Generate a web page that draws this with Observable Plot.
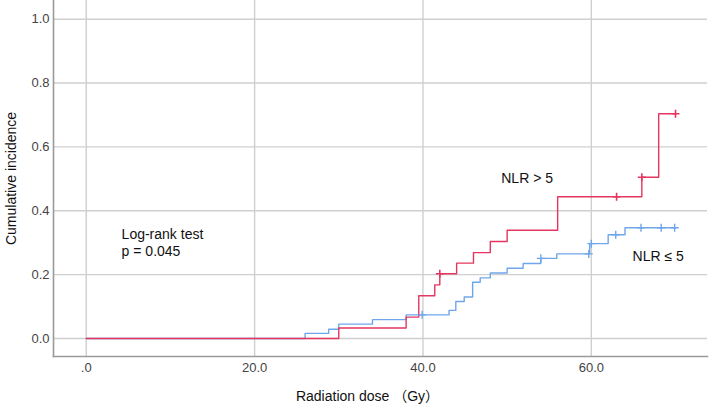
<!DOCTYPE html>
<html>
<head>
<meta charset="utf-8">
<script src="https://cdn.jsdelivr.net/npm/d3@7"></script>
<script src="https://cdn.jsdelivr.net/npm/@observablehq/plot@0.6"></script>
<style>
  html, body { margin: 0; padding: 0; background: #fff; }
</style>
</head>
<body>
<div id="chart"></div>
<script>
// Group NLR > 5
const doseHigh = [0, 30, 38, 39.5, 41.4, 42, 44, 46, 48, 50, 56, 66, 68, 70];
const incHigh  = [0, 0.033, 0.067, 0.134, 0.168, 0.203, 0.236, 0.269, 0.304, 0.339, 0.444, 0.505, 0.704, 0.704];
const censorHighDose = [42, 63, 66, 70];
const censorHighInc  = [0.203, 0.444, 0.505, 0.704];

// Group NLR ≤ 5
const doseLow = [0, 26, 28.8, 30, 34, 38, 43.1, 43.9, 44.9, 45.9, 46.8, 48, 50, 51.9, 54, 55.9, 59.8, 62, 64, 70];
const incLow  = [0, 0.016, 0.029, 0.045, 0.059, 0.074, 0.088, 0.116, 0.130, 0.176, 0.190, 0.205, 0.220, 0.235, 0.251, 0.265, 0.297, 0.325, 0.347, 0.347];
const censorLowDose = [39.9, 54, 59.7, 60, 62.9, 65.9, 68.3, 69.9];
const censorLowInc  = [0.074, 0.251, 0.265, 0.297, 0.325, 0.347, 0.347, 0.347];

const xTicks = [0, 20, 40, 60];
const xTickLabels = [".0", "20.0", "40.0", "60.0"];
const yTicks = [0, 0.2, 0.4, 0.6, 0.8, 1.0];
const yTickLabels = ["0.0", "0.2", "0.4", "0.6", "0.8", "1.0"];

const annotText = ["NLR > 5", "NLR ≤ 5", "Log-rank test", "p = 0.045"];
const annotX = [49.3, 64.9, 4.2, 4.2];
const annotY = [0.50, 0.257, 0.326, 0.271];

const xTitle = "Radiation dose （Gy）";
const yTitle = "Cumulative incidence";

const RED = "#e5365f";
const BLUE = "#6fa6ea";

const high = doseHigh.map((d, i) => ({dose: d, inc: incHigh[i]}));
const low = doseLow.map((d, i) => ({dose: d, inc: incLow[i]}));
const cHigh = censorHighDose.map((d, i) => ({dose: d, inc: censorHighInc[i]}));
const cLow = censorLowDose.map((d, i) => ({dose: d, inc: censorLowInc[i]}));
const annots = annotText.map((t, i) => ({t, x: annotX[i], y: annotY[i]}));

const plusSymbol = {
  draw(ctx, size) {
    const r = Math.sqrt(size / Math.PI);
    ctx.moveTo(-r, 0); ctx.lineTo(r, 0);
    ctx.moveTo(0, -r); ctx.lineTo(0, r);
  }
};

const chart = Plot.plot({
  width: 709,
  height: 405,
  marginLeft: 53,
  marginRight: 2,
  marginTop: 0,
  marginBottom: 49,
  style: {fontFamily: "'Liberation Sans', Arial, 'Noto Sans CJK JP', sans-serif", fontSize: "13px", color: "#444", background: "#fff"},
  x: {domain: [-3.89, 73.8]},
  y: {domain: [-0.0564, 1.0586]},
  marks: [
    Plot.gridX(xTicks, {stroke: "#cfcfcf", strokeOpacity: 1, strokeWidth: 1.4}),
    Plot.gridY(yTicks, {stroke: "#cfcfcf", strokeOpacity: 1, strokeWidth: 1.4}),
    Plot.axisX(xTicks, {tickSize: 0, tickPadding: 6, tickFormat: (d) => xTickLabels[xTicks.indexOf(d)], label: null, fontSize: 13, fill: "#444"}),
    Plot.axisY(yTicks, {tickSize: 0, tickPadding: 4, tickFormat: (d) => yTickLabels[yTicks.indexOf(d)], label: null, fontSize: 13, fill: "#444"}),
    Plot.frame({anchor: "left", stroke: "#9a9a9a", strokeWidth: 1.6}),
    Plot.frame({anchor: "bottom", stroke: "#9a9a9a", strokeWidth: 1.6}),
    Plot.line(low, {x: "dose", y: "inc", curve: "step-after", stroke: BLUE, strokeWidth: 1.4}),
    Plot.line(high, {x: "dose", y: "inc", curve: "step-after", stroke: RED, strokeWidth: 1.4}),
    Plot.dot(cLow, {x: "dose", y: "inc", symbol: plusSymbol, r: 4, stroke: BLUE, strokeWidth: 1.4, fill: "none"}),
    Plot.dot(cHigh, {x: "dose", y: "inc", symbol: plusSymbol, r: 4, stroke: RED, strokeWidth: 1.6, fill: "none"}),
    Plot.text(annots, {x: "x", y: "y", text: "t", textAnchor: "start", fontSize: 14, fill: "#111"}),
    Plot.text([xTitle], {frameAnchor: "bottom", textAnchor: "middle", lineAnchor: "middle", dy: 40, dx: -13, fontSize: 14, fill: "#111"}),
    Plot.text([yTitle], {frameAnchor: "left", textAnchor: "middle", lineAnchor: "middle", dx: -42, rotate: -90, fontSize: 14, fill: "#111"})
  ]
});
document.getElementById("chart").appendChild(chart);
</script>
</body>
</html>
